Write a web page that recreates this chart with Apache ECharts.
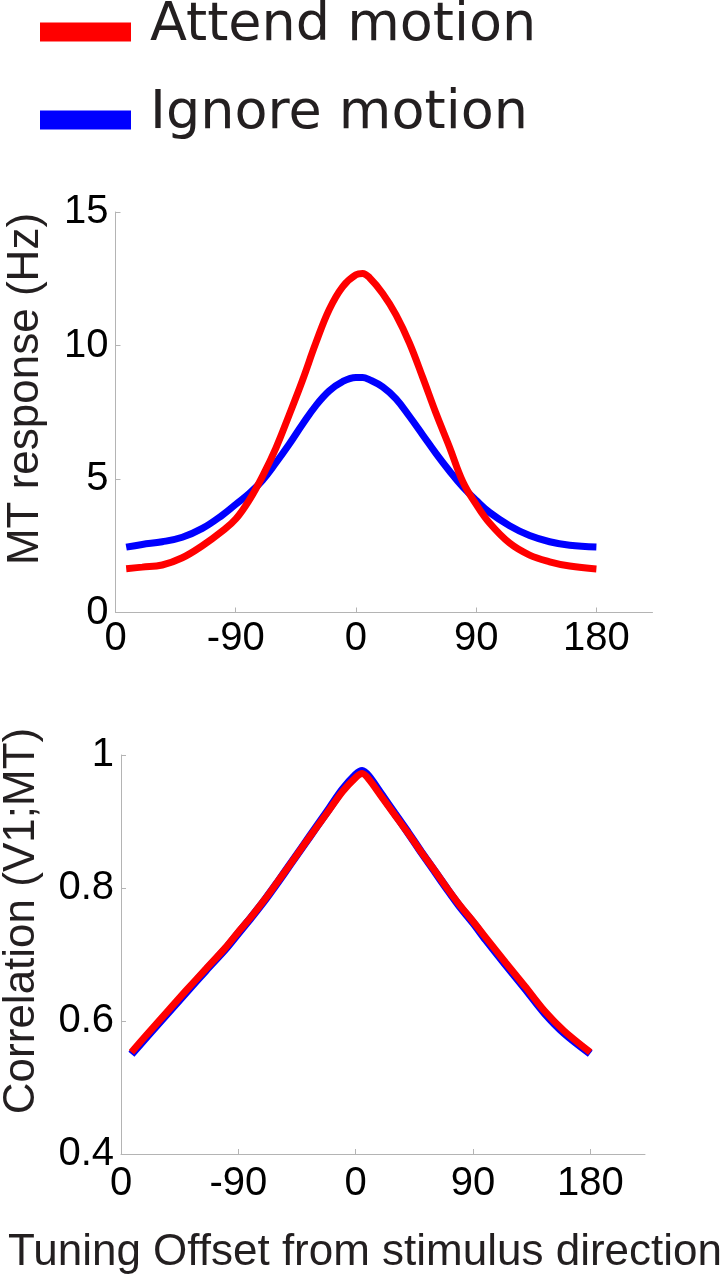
<!DOCTYPE html>
<html>
<head>
<meta charset="utf-8">
<script src="https://cdn.jsdelivr.net/npm/echarts@6/dist/echarts.min.js"></script>
<style>
html,body{margin:0;padding:0;background:#fff;}
#chart{width:728px;height:1280px;}
</style>
</head>
<body>
<div id="chart"></div>
<script>
// ---- data ----
const directions = [-172,-160,-145,-130,-115,-100,-90,-80,-70,-60,-50,-40,-30,-20,-10,0,5,10,20,30,40,50,60,70,80,90,100,115,130,145,160,180];
const mtAttend = [1.64,1.70,1.78,2.05,2.50,3.05,3.50,4.20,5.10,6.15,7.40,8.70,10.10,11.35,12.20,12.65,12.70,12.55,11.95,11.15,10.10,8.80,7.45,6.20,4.90,4.05,3.35,2.60,2.15,1.90,1.74,1.63];
const mtIgnore = [2.45,2.55,2.65,2.82,3.15,3.65,4.05,4.45,4.95,5.60,6.30,7.05,7.75,8.30,8.65,8.80,8.80,8.72,8.45,8.00,7.35,6.65,5.95,5.30,4.70,4.20,3.75,3.25,2.88,2.65,2.52,2.45];
const corrAttend = [0.553,0.580,0.613,0.646,0.678,0.710,0.734,0.757,0.782,0.809,0.836,0.864,0.891,0.918,0.945,0.966,0.972,0.964,0.937,0.910,0.883,0.855,0.828,0.800,0.774,0.750,0.725,0.688,0.652,0.615,0.585,0.553];
const corrIgnore = [0.550,0.577,0.610,0.643,0.676,0.708,0.732,0.756,0.781,0.808,0.836,0.864,0.892,0.920,0.948,0.970,0.976,0.968,0.940,0.912,0.884,0.855,0.827,0.799,0.772,0.748,0.722,0.685,0.649,0.612,0.582,0.551];
const xTickValues = [-180,-90,0,90,180];
const xTickLabels = ['0','-90','0','90','180'];
const mtTicks = [0,5,10,15];
const corrTicks = [0.4,0.6,0.8,1.0];
const corrTickLabels = ['0.4','0.6','0.8','1'];
const seriesNames = ['Attend motion','Ignore motion'];
const yTitles = ['MT response (Hz)','Correlation (V1;MT)'];
const xTitle = 'Tuning Offset from stimulus direction';

// ---- styling ----
const AX = '#b4b4b4';
const TICKFONT = "'Liberation Sans Narrow','Arial Narrow','Liberation Sans',Arial,sans-serif";
const RED = '#ff0000', BLUE = '#0000ff';
// legend swatch: bar in the lower part of the icon box (so it sits below the text centre)
const LEGEND_ICON = 'path://M0,0L0,0M0,13L91,13L91,32L0,32Z';

function pairs(xs, ys){ return xs.map((x,i)=>[x, ys[i]]); }

function xAxisCfg(gi, margin){
  return {
    type:'value', gridIndex:gi, min:-180, max:222, interval:90,
    axisLine:{show:true, onZero:false, lineStyle:{color:AX, width:1}},
    axisTick:{show:true, inside:true, length:5, lineStyle:{color:AX}, customValues:[-90,0,90,180]},
    axisLabel:{show:true, customValues:xTickValues, margin:margin, color:'#000',
      fontFamily:TICKFONT, fontSize:40, lineHeight:40,
      formatter:(v)=>{const i=xTickValues.indexOf(Math.round(v)); return i>=0?xTickLabels[i]:'';}},
    splitLine:{show:false}
  };
}
function yAxisCfg(gi, min, max, interval, fmt){
  return {type:'value', gridIndex:gi, min:min, max:max, interval:interval,
     axisLine:{show:true, onZero:false, lineStyle:{color:AX, width:1}},
     axisTick:{show:true, inside:true, length:5, lineStyle:{color:AX}},
     axisLabel:{margin:7, color:'#000', fontFamily:TICKFONT, fontSize:40, lineHeight:40, formatter:fmt},
     splitLine:{show:false}};
}

const chart = echarts.init(document.getElementById('chart'), null, {renderer:'canvas'});
chart.setOption({
  animation:false,
  backgroundColor:'#fff',
  legend:{
    orient:'vertical', left:35, top:-7.5,
    data:seriesNames, icon:LEGEND_ICON, itemWidth:91, itemHeight:32, itemGap:32,
    textStyle:{fontFamily:"'DejaVu Sans',sans-serif", fontSize:54, lineHeight:56, color:'#231f20', padding:[0,0,0,14]},
    selectedMode:false
  },
  grid:[
    {left:115.5, top:212, width:537, height:400.5},
    {left:121, top:755, width:524, height:399}
  ],
  xAxis:[ xAxisCfg(0,6), xAxisCfg(1,10) ],
  yAxis:[
    yAxisCfg(0, 0, 15, 5, (v)=>{const i=mtTicks.indexOf(Math.round(v)); return i>=0?String(mtTicks[i]):'';}),
    yAxisCfg(1, 0.4, 1, 0.2, (v)=>{const i=corrTicks.findIndex(t=>Math.abs(t-v)<1e-6); return i>=0?corrTickLabels[i]:'';})
  ],
  series:[
    {name:seriesNames[1], type:'line', xAxisIndex:0, yAxisIndex:0, data:pairs(directions, mtIgnore),
     showSymbol:false, smooth:0.4, lineStyle:{color:BLUE, width:7}, itemStyle:{color:BLUE}, z:2},
    {name:seriesNames[0], type:'line', xAxisIndex:0, yAxisIndex:0, data:pairs(directions, mtAttend),
     showSymbol:false, smooth:0.4, lineStyle:{color:RED, width:7}, itemStyle:{color:RED}, z:3},
    {name:seriesNames[1], type:'line', xAxisIndex:1, yAxisIndex:1, data:pairs(directions, corrIgnore),
     showSymbol:false, smooth:0.3, lineStyle:{color:BLUE, width:8}, itemStyle:{color:BLUE}, z:2},
    {name:seriesNames[0], type:'line', xAxisIndex:1, yAxisIndex:1, data:pairs(directions, corrAttend),
     showSymbol:false, smooth:0.3, lineStyle:{color:RED, width:7}, itemStyle:{color:RED}, z:3}
  ],
  graphic:[
    {type:'text', x:26, y:389, rotation:Math.PI/2,
     style:{text:yTitles[0], font:"44px 'Liberation Sans',Arial,sans-serif", fill:'#231f20', textAlign:'center', textVerticalAlign:'middle'}},
    {type:'text', x:22, y:921, rotation:Math.PI/2,
     style:{text:yTitles[1], font:"44px 'Liberation Sans',Arial,sans-serif", fill:'#231f20', textAlign:'center', textVerticalAlign:'middle'}},
    {type:'text', x:365, y:1253,
     style:{text:xTitle, font:"44px 'Liberation Sans',Arial,sans-serif", fill:'#231f20', textAlign:'center', textVerticalAlign:'middle'}}
  ]
});
</script>
</body>
</html>
